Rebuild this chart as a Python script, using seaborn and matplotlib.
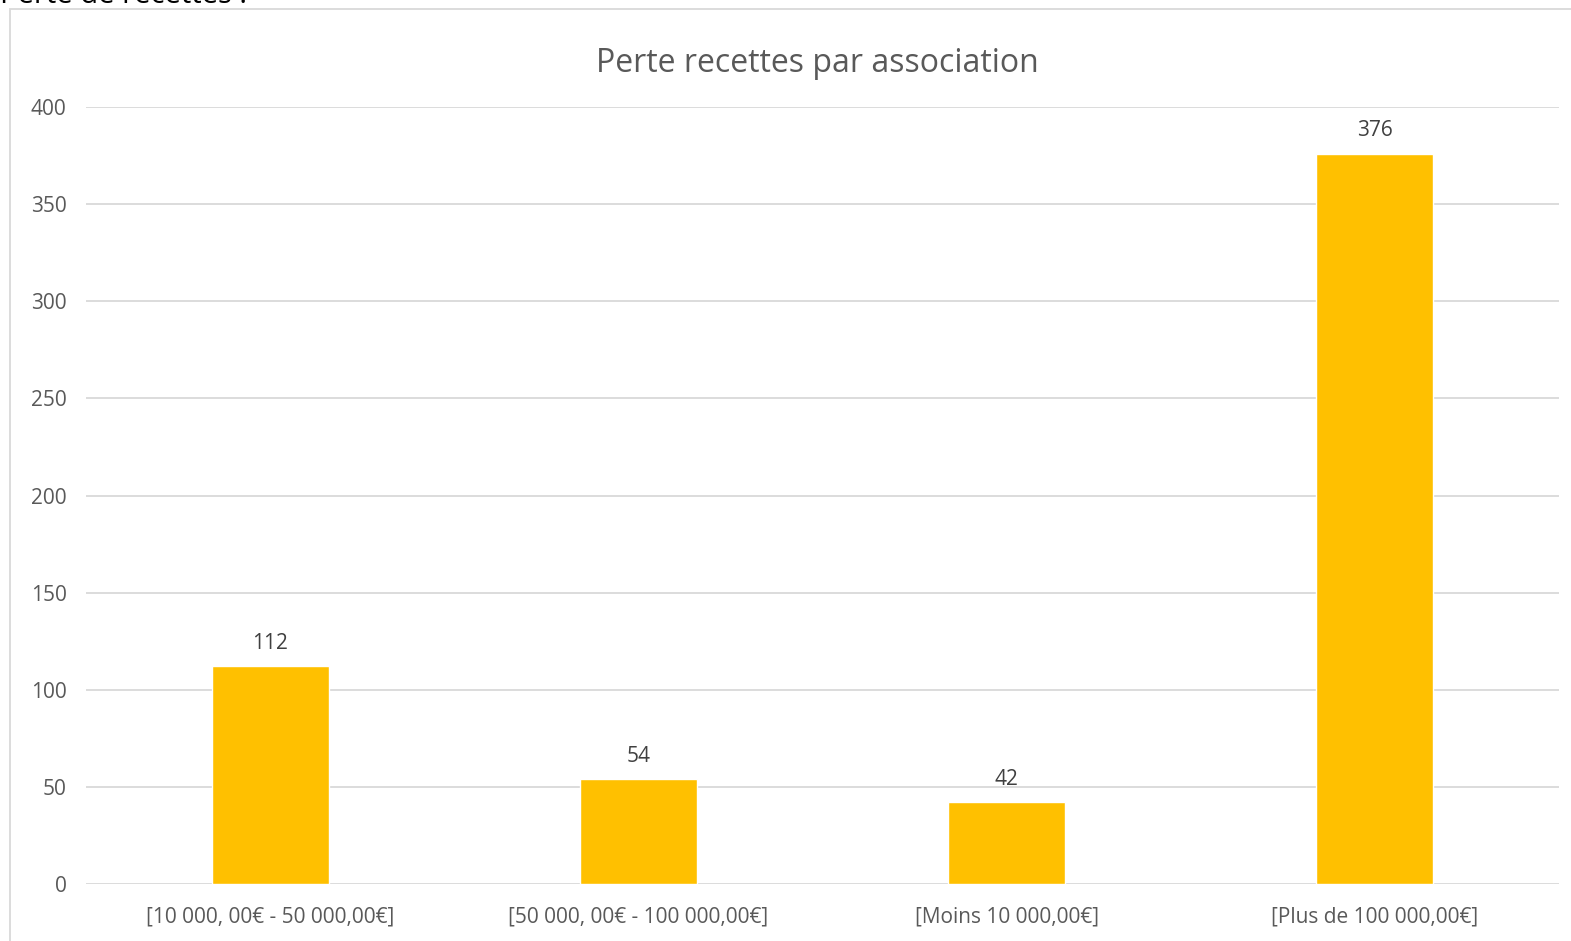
import pandas as pd
import matplotlib.pyplot as plt
import seaborn as sns
from matplotlib.patches import Rectangle

# Chart values
categories = ['[10 000, 00€ - 50 000,00€]', '[50 000, 00€ - 100 000,00€]',
              '[Moins 10 000,00€]', '[Plus de 100 000,00€]']
values = [112, 54, 42, 376]
y_ticks = [0, 50, 100, 150, 200, 250, 300, 350, 400]

df = pd.DataFrame({'Tranche': categories, 'Perte': values})

sns.set_style('white')
plt.rcParams['font.family'] = ['Open Sans', 'DejaVu Sans']

fig = plt.figure(figsize=(15.71, 9.41), dpi=100)
ax = fig.add_axes([86 / 1571, 1 - 884 / 941, (1559 - 86) / 1571, (884 - 107) / 941])

sns.barplot(x='Tranche', y='Perte', data=df, color='#FFC000', width=0.318,
            saturation=1, ax=ax, zorder=3)

ax.set_ylim(0, 400)
ax.set_xlim(-0.5, 3.5)
ax.set_yticks(y_ticks)
ax.yaxis.grid(True, color='#D9D9D9', linewidth=1.3, zorder=0)
ax.set_axisbelow(True)
for s in ax.spines.values():
    s.set_visible(False)
ax.tick_params(axis='both', length=0, labelsize=15, colors='#595959')
ax.tick_params(axis='y', pad=14)
ax.tick_params(axis='x', pad=16)
ax.set_xlabel('')
ax.set_ylabel('')

for c in ax.containers:
    ax.bar_label(c, labels=[str(v) for v in values], padding=9,
                 fontsize=15, color='#404040')

fig.text(817 / 1571, 1 - 64 / 941, 'Perte recettes par association',
         ha='center', va='center', fontsize=23, color='#595959')

# outer chart frame and cut-off heading above it
fig.patches.append(Rectangle((10 / 1571, -0.01), 1.0, 1 - 9 / 941 + 0.01,
                             transform=fig.transFigure, fill=False,
                             edgecolor='#D9D9D9', linewidth=1.3))
fig.text(0.0, 1 - 3 / 941, 'Perte de recettes :', ha='left', va='baseline',
         fontsize=21, color='black')

plt.savefig('out.png', dpi=100)
